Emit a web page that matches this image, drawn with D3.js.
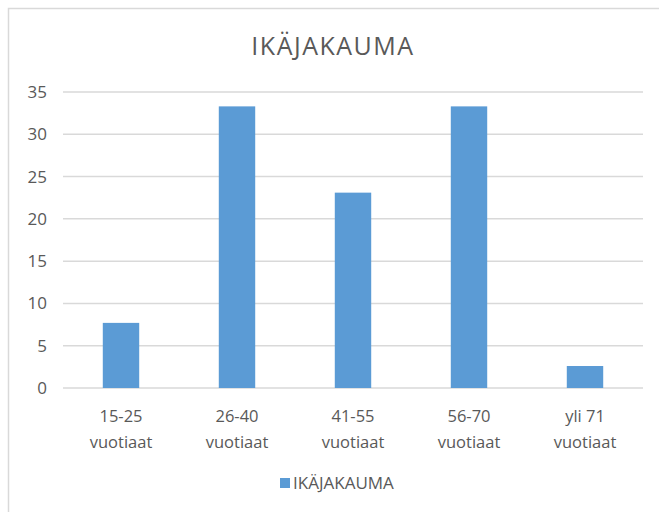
<!DOCTYPE html>
<html>
<head>
<meta charset="utf-8">
<script src="https://d3js.org/d3.v7.min.js"></script>
<style>
  body { margin: 0; background: #fff; }
  text { font-family: "Open Sans", sans-serif; fill: #595959; }
</style>
</head>
<body>
<div id="chart"></div>
<script>
// data
const categories = ["15-25 vuotiaat", "26-40 vuotiaat", "41-55 vuotiaat", "56-70 vuotiaat", "yli 71 vuotiaat"];
const values = [7.7, 33.3, 23.1, 33.3, 2.6];
const yTicks = [0, 5, 10, 15, 20, 25, 30, 35];
const seriesName = "IKÄJAKAUMA";
const chartTitle = "IKÄJAKAUMA";

const width = 659, height = 512;
const margin = { top: 92, right: 16, bottom: 124, left: 63 };
const innerW = width - margin.left - margin.right;
const innerH = height - margin.top - margin.bottom;

const svg = d3.select("#chart")
    .append("svg")
    .attr("width", width)
    .attr("height", height);

// chart area border (right and bottom fall outside the crop)
svg.append("rect")
    .attr("x", 8.5)
    .attr("y", 8.5)
    .attr("width", width + 20)
    .attr("height", height + 20)
    .attr("fill", "none")
    .attr("stroke", "#d9d9d9")
    .attr("stroke-width", 1.5);

svg.append("text")
    .attr("x", 333)
    .attr("y", 55)
    .attr("text-anchor", "middle")
    .style("font-size", "25px")
    .style("letter-spacing", "1.5px")
    .text(chartTitle);

const g = svg.append("g")
    .attr("transform", `translate(${margin.left},${margin.top})`);

const x = d3.scaleBand()
    .domain(categories)
    .range([0, innerW])
    .paddingInner(0.686)
    .paddingOuter(0.343);

const y = d3.scaleLinear()
    .domain([0, 35])
    .range([innerH, 0]);

// gridlines
g.selectAll(".grid")
    .data(yTicks)
    .enter()
    .append("line")
    .attr("class", "grid")
    .attr("x1", 0)
    .attr("x2", innerW)
    .attr("y1", d => y(d))
    .attr("y2", d => y(d))
    .attr("stroke", "#d9d9d9")
    .attr("stroke-width", 1.5);

// y axis labels
const yAxis = g.append("g")
    .call(d3.axisLeft(y).tickValues(yTicks).tickSize(0).tickPadding(16));
yAxis.select(".domain").remove();
yAxis.selectAll("text")
    .style("font-size", "17px")
    .attr("fill", "#595959");

// bars
g.selectAll(".bar")
    .data(values)
    .enter()
    .append("rect")
    .attr("class", "bar")
    .attr("x", (d, i) => x(categories[i]))
    .attr("y", d => y(d))
    .attr("width", x.bandwidth())
    .attr("height", d => innerH - y(d))
    .attr("fill", "#5b9bd5");

// x axis labels, two lines
const xAxis = g.append("g")
    .attr("transform", `translate(0,${innerH})`)
    .call(d3.axisBottom(x).tickSize(0).tickFormat(""));
xAxis.select(".domain").remove();

const labels = g.selectAll(".xlab")
    .data(categories)
    .enter()
    .append("text")
    .attr("class", "xlab")
    .attr("text-anchor", "middle")
    .attr("transform", d => `translate(${x(d) + x.bandwidth() / 2},${innerH + 34})`)
    .style("font-size", "16.5px");

labels.each(function(d) {
    const words = d.split(" ");
    const first = words.slice(0, -1).join(" ");
    const last = words[words.length - 1];
    const t = d3.select(this);
    t.append("tspan").attr("x", 0).attr("dy", 0).text(first);
    t.append("tspan").attr("x", 0).attr("dy", 26).text(last);
});

// legend
const legend = svg.append("g").attr("transform", "translate(280,478)");
legend.append("rect")
    .attr("width", 10)
    .attr("height", 10)
    .attr("fill", "#5b9bd5");
legend.append("text")
    .attr("x", 13)
    .attr("y", 11)
    .style("font-size", "17px")
    .text(seriesName);
</script>
</body>
</html>
